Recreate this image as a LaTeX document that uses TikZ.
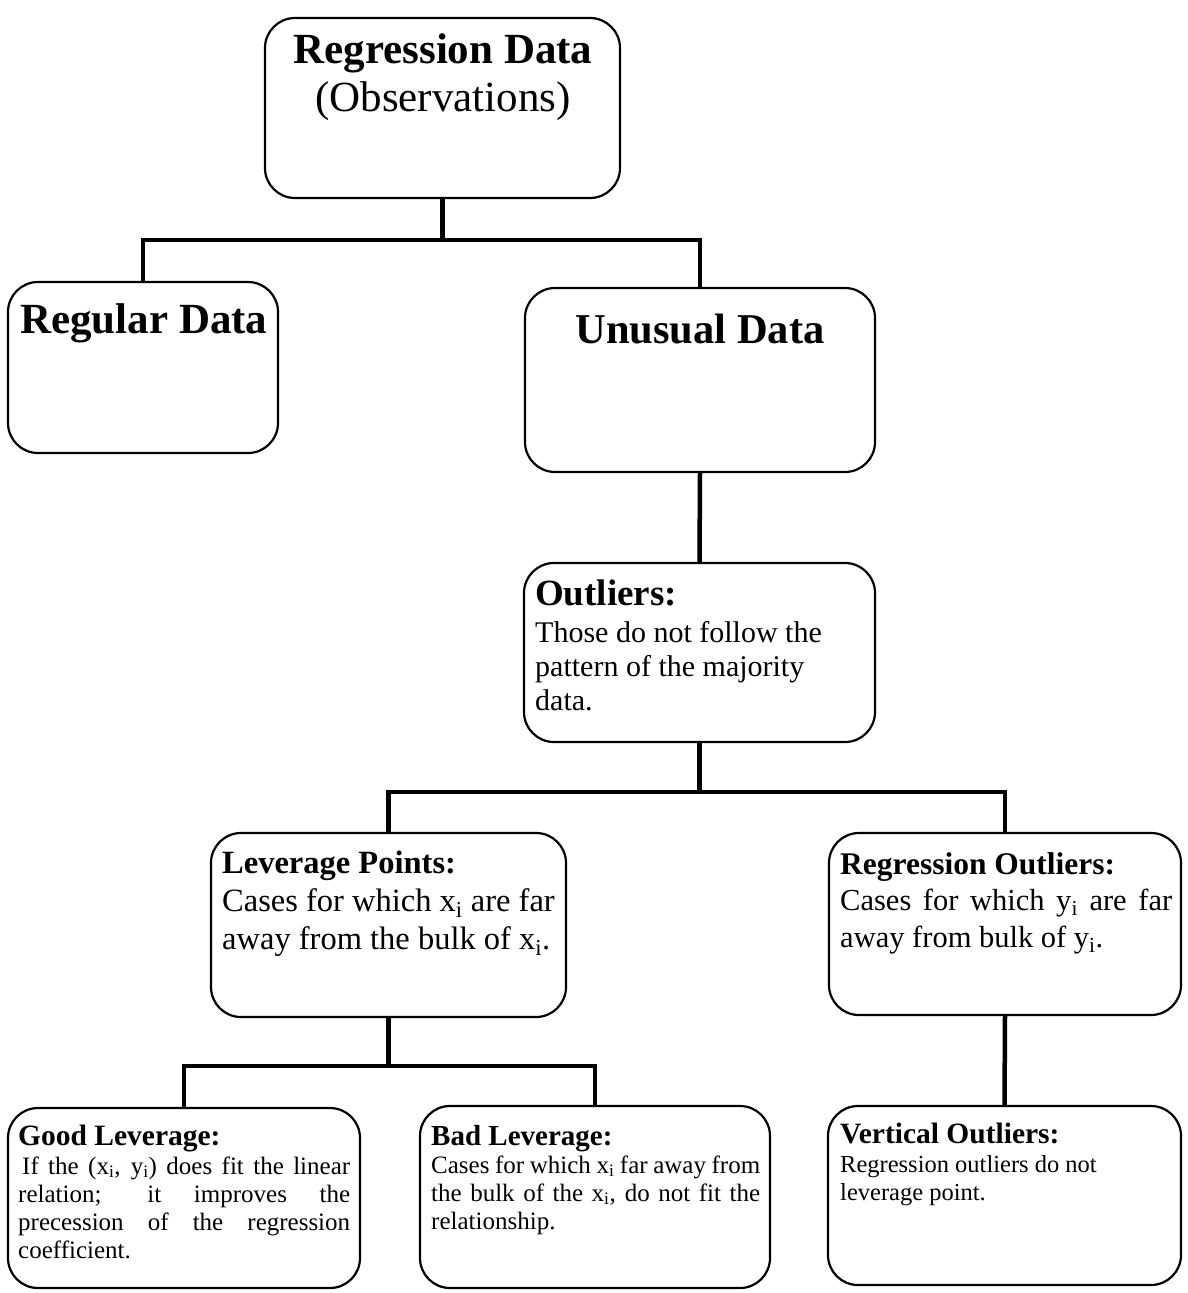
\documentclass[tikz,border=0pt]{standalone}
\usepackage{fontspec}
\setmainfont{Liberation Serif}
\usetikzlibrary{calc}
\newcommand{\fsz}[2]{\fontsize{#1}{#2}\selectfont}
\newcommand{\sbi}{\textsubscript{i}}
\begin{document}
\begin{tikzpicture}[x=1pt,y=-1pt,
  box/.style={draw, line width=2.2pt, rounded corners=30pt, inner sep=0pt},
  conn/.style={line width=4.5pt},
  txt/.style={inner sep=0pt, anchor=base west},
  body/.style={inner sep=0pt, anchor=base west, align=flush left},
  jbody/.style={inner sep=0pt, anchor=base west, align=justify}]
\useasboundingbox (0,0) rectangle (1188,1293);
\hyphenpenalty=10000
% boxes
\node[box, minimum width=355pt, minimum height=180pt] (top) at (442.5,108) {};
\node[box, minimum width=270pt, minimum height=171pt] (reg) at (143,367.5) {};
\node[box, minimum width=350pt, minimum height=184pt] (unu) at (700,380) {};
\node[box, minimum width=351pt, minimum height=179pt] (out) at (699.5,652.5) {};
\node[box, minimum width=355pt, minimum height=184pt] (lev) at (388.5,925) {};
\node[box, minimum width=352pt, minimum height=182pt] (rout) at (1005,924) {};
\node[box, minimum width=352pt, minimum height=180pt] (good) at (184,1198) {};
\node[box, minimum width=350pt, minimum height=182pt] (bad) at (595,1197) {};
\node[box, minimum width=353pt, minimum height=179pt] (vert) at (1004.5,1195.5) {};
% texts
\node[inner sep=0pt, anchor=base, font=\bfseries\fsz{43}{47}] (topt1) at (443,63) {Regression Data};
\node[inner sep=0pt, anchor=base, font=\fsz{43}{47}] (topt2) at (443,111) {(Observations)};
\node[txt, font=\bfseries\fsz{43}{47}] (regt) at (20,333) {Regular Data};
\node[inner sep=0pt, anchor=base, font=\bfseries\fsz{42.5}{47}] (unut) at (700,343) {Unusual Data};
\node[txt, font=\bfseries\fsz{37}{40}] (outt) at (535,605) {Outliers:};
\node[body, text width=330pt, font=\fsz{30}{34}] (outb) at (535,642) {Those do not follow the\\pattern of the majority\\data.};
\node[txt, font=\bfseries\fsz{32.5}{38}] (levt) at (222,873) {Leverage Points:};
\node[body, text width=340pt, font=\fsz{32.5}{38}] (levb) at (222,911) {Cases for which x\sbi{} are far\\away from the bulk of x\sbi.};
\node[txt, font=\bfseries\fsz{31.5}{37}] (routt) at (840,874) {Regression Outliers:};
\node[jbody, text width=332pt, font=\fsz{30.5}{37}] (routb) at (840,910) {Cases for which y\sbi{} are far\linebreak away from bulk of y\sbi.};
\node[txt, font=\bfseries\fsz{29.5}{34}] (goodt) at (18,1145) {Good Leverage:};
\node[jbody, text width=332pt, font=\fsz{25}{28}] (goodb) at (18,1174) {\hspace*{4pt}If the (x\sbi, y\sbi) does fit the linear\linebreak relation; it improves the\linebreak precession of the regression\linebreak coefficient.};
\node[txt, font=\bfseries\fsz{29}{34}] (badt) at (431,1145) {Bad Leverage:};
\node[jbody, text width=329pt, font=\fsz{25}{28}] (badb) at (431,1173) {Cases for which x\sbi{} far away from\linebreak the bulk of the x\sbi, do not fit the\linebreak relationship.};
\node[txt, font=\bfseries\fsz{29.5}{34}] (vertt) at (840,1143) {Vertical Outliers:};
\node[body, text width=330pt, font=\fsz{24.5}{28}] (vertb) at (840,1172) {Regression outliers do not\\leverage point.};
% connectors
\coordinate (j1) at (top.south |- 0,240);
\coordinate (j2) at (out.south |- 0,792);
\coordinate (j3) at (lev.south |- 0,1066);
\draw[conn] (top.south) -- (j1);
\draw[conn] (reg.north) |- (j1) -| (unu.north);
\draw[conn] (unu.south) -- (out.north);
\draw[conn] (out.south) -- (j2);
\draw[conn] (lev.north) |- (j2) -| (rout.north);
\draw[conn] (lev.south) -- (j3);
\draw[conn] (good.north) |- (j3) -| (bad.north);
\draw[conn] (rout.south) -- (vert.north);
\end{tikzpicture}
\end{document}
